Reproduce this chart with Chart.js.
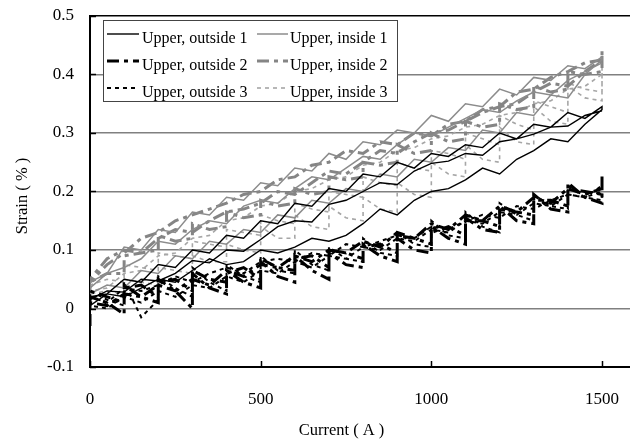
<!DOCTYPE html>
<html><head><meta charset="utf-8">
<script src="https://cdn.jsdelivr.net/npm/chart.js@4/dist/chart.umd.min.js"></script>
<style>html,body{margin:0;padding:0;background:#fff;}</style>
</head><body>
<canvas id="c" width="630" height="441"></canvas>
<script>
const seriesNames = ["Upper, outside 1","Upper, inside 1","Upper, outside 2","Upper, inside 2","Upper, outside 3","Upper, inside 3"];
const xTickValues = [0,500,1000,1500];
const yTickValues = [-0.1,0,0.1,0.2,0.3,0.4,0.5];
const xTitle = "Current ( A )";
const yTitle = "Strain ( % )";

// current sequences (A)
const plainUp = [0,50,100,150,200,250,300,350,400,450,500,550,600,650,700,750,800,850,900,950,1000,1050,1100,1150,1200,1250,1300,1350,1400,1450,1500];
const plainDown = [1500,1450,1400,1350,1300,1250,1200,1150,1100,1050,1000,950,900,850,800,750,700,650,600,550,500,450,400,350,300,250,200,150,100,50,0];
const holdUp = [0,0,50,100,100,150,200,200,250,300,300,350,400,400,450,500,500,550,600,600,650,700,700,750,800,800,850,900,900,950,1000,1000,1050,1100,1100,1150,1200,1200,1250,1300,1300,1350,1400,1400,1450,1500,1500];

// strain (%)
const out1Up = [0.005,0.025,0.020,0.035,0.050,0.045,0.065,0.085,0.075,0.080,0.100,0.095,0.105,0.120,0.115,0.125,0.145,0.170,0.160,0.185,0.200,0.205,0.220,0.240,0.230,0.255,0.270,0.290,0.285,0.315,0.340];
const out1Down = [0.345,0.325,0.335,0.310,0.315,0.290,0.300,0.275,0.280,0.260,0.265,0.240,0.250,0.225,0.230,0.200,0.205,0.175,0.180,0.145,0.150,0.120,0.125,0.095,0.100,0.070,0.075,0.045,0.050,0.025,0.020];
const out1Up2 = [0.015,0.030,0.028,0.050,0.047,0.060,0.082,0.078,0.100,0.098,0.118,0.140,0.150,0.148,0.178,0.185,0.200,0.215,0.212,0.235,0.248,0.252,0.265,0.262,0.285,0.290,0.298,0.310,0.312,0.330,0.338];
const in1Up = [0.025,0.040,0.035,0.065,0.060,0.090,0.085,0.115,0.110,0.135,0.130,0.160,0.155,0.185,0.180,0.205,0.200,0.230,0.225,0.255,0.250,0.275,0.270,0.305,0.300,0.335,0.330,0.365,0.360,0.400,0.425];
const in1Down = [0.430,0.410,0.415,0.390,0.395,0.365,0.375,0.345,0.350,0.320,0.330,0.300,0.305,0.280,0.285,0.255,0.265,0.235,0.240,0.210,0.215,0.185,0.190,0.160,0.165,0.130,0.135,0.100,0.105,0.060,0.045];
const in1Up2 = [0.035,0.060,0.070,0.085,0.115,0.110,0.135,0.150,0.145,0.175,0.185,0.180,0.205,0.225,0.220,0.240,0.260,0.255,0.280,0.300,0.295,0.310,0.325,0.340,0.335,0.355,0.370,0.365,0.390,0.405,0.420];
const out2Up = [-0.030,0.020,0.010,-0.010,0.040,0.020,0.010,0.050,0.030,0.000,0.060,0.035,0.025,0.065,0.045,0.035,0.080,0.055,0.045,0.090,0.065,0.050,0.095,0.075,0.070,0.110,0.090,0.080,0.120,0.100,0.095,0.140,0.120,0.110,0.155,0.135,0.130,0.175,0.150,0.145,0.195,0.170,0.165,0.215,0.190,0.180,0.230];
const out2Down = [0.205,0.195,0.205,0.180,0.190,0.165,0.175,0.150,0.160,0.135,0.145,0.120,0.130,0.105,0.115,0.095,0.100,0.080,0.090,0.070,0.075,0.055,0.065,0.040,0.050,0.030,0.040,0.020,0.025,0.005,0.010];
const out2Up2 = [0.000,0.030,0.020,0.010,0.035,0.040,0.020,0.045,0.050,0.030,0.065,0.050,0.045,0.060,0.070,0.050,0.085,0.070,0.065,0.085,0.090,0.070,0.100,0.095,0.085,0.105,0.110,0.095,0.125,0.120,0.110,0.130,0.140,0.125,0.150,0.150,0.140,0.170,0.165,0.160,0.185,0.185,0.175,0.205,0.200,0.195,0.215];
const in2Up = [0.020,0.045,0.060,0.060,0.090,0.095,0.100,0.125,0.115,0.120,0.145,0.135,0.140,0.165,0.155,0.160,0.185,0.175,0.180,0.205,0.195,0.200,0.225,0.220,0.225,0.250,0.245,0.250,0.280,0.265,0.270,0.300,0.285,0.290,0.320,0.310,0.315,0.350,0.340,0.345,0.380,0.370,0.375,0.405,0.400,0.405,0.440];
const in2Down = [0.425,0.420,0.405,0.395,0.375,0.370,0.345,0.340,0.320,0.315,0.295,0.300,0.280,0.285,0.265,0.270,0.250,0.245,0.225,0.220,0.200,0.195,0.180,0.170,0.160,0.150,0.130,0.120,0.095,0.075,0.045];
const in2Up2 = [0.050,0.085,0.100,0.095,0.120,0.135,0.130,0.150,0.165,0.170,0.180,0.200,0.195,0.215,0.235,0.230,0.250,0.270,0.265,0.285,0.300,0.305,0.320,0.335,0.345,0.350,0.370,0.385,0.380,0.405,0.425];
const out3Up = [-0.010,0.030,0.015,0.005,0.045,-0.015,0.015,0.055,0.035,0.020,0.070,0.045,0.030,0.075,0.055,0.045,0.090,0.065,0.060,0.100,0.075,0.065,0.105,0.085,0.080,0.120,0.095,0.090,0.130,0.110,0.105,0.150,0.125,0.120,0.165,0.140,0.130,0.180,0.160,0.150,0.195,0.175,0.170,0.210,0.190,0.185,0.220];
const out3Down = [0.200,0.190,0.195,0.175,0.180,0.160,0.165,0.145,0.150,0.130,0.135,0.115,0.120,0.100,0.105,0.085,0.090,0.070,0.080,0.060,0.065,0.045,0.055,0.035,0.040,0.020,0.030,0.010,0.020,0.000,0.005];
const out3Up2 = [0.020,0.010,0.035,0.030,0.040,0.055,0.045,0.060,0.070,0.060,0.080,0.085,0.080,0.095,0.090,0.110,0.105,0.115,0.125,0.120,0.140,0.135,0.150,0.160,0.155,0.175,0.170,0.185,0.195,0.190,0.210];
const in3Up = [0.000,0.025,0.030,0.025,0.050,0.045,0.040,0.070,0.065,0.060,0.090,0.080,0.080,0.110,0.100,0.095,0.140,0.120,0.120,0.160,0.140,0.135,0.175,0.155,0.150,0.190,0.170,0.165,0.215,0.195,0.190,0.250,0.230,0.225,0.280,0.255,0.250,0.310,0.285,0.280,0.345,0.320,0.315,0.380,0.360,0.355,0.410];
const in3Down = [0.400,0.380,0.375,0.355,0.350,0.335,0.330,0.315,0.310,0.295,0.290,0.275,0.270,0.250,0.245,0.225,0.220,0.205,0.200,0.180,0.175,0.155,0.150,0.125,0.120,0.095,0.090,0.065,0.060,0.035,0.030];
const in3Up2 = [0.015,0.040,0.050,0.045,0.075,0.070,0.065,0.095,0.090,0.085,0.115,0.110,0.105,0.135,0.130,0.125,0.160,0.150,0.145,0.180,0.170,0.165,0.200,0.195,0.190,0.225,0.215,0.210,0.250,0.240,0.235,0.270,0.265,0.255,0.300,0.290,0.280,0.330,0.315,0.305,0.355,0.345,0.335,0.385,0.375,0.370,0.420];

const FONT = "'Liberation Serif','Times New Roman',serif";
function pts(xs, ys){ return xs.map((x,i)=>({x:x, y:ys[i]})); }

const styles = [
  {color:'#000000', width:1.4, dash:[], order:0},
  {color:'#8c8c8c', width:1.5, dash:[], order:1},
  {color:'#000000', width:3, dash:[12,5,4,5], order:0},
  {color:'#858585', width:3, dash:[12,5,4,5], order:1},
  {color:'#000000', width:2, dash:[4,4], order:0},
  {color:'#a6a6a6', width:1.6, dash:[4,4], order:1}
];
const seriesData = [
  pts(plainUp,out1Up).concat(pts(plainDown,out1Down), pts(plainUp,out1Up2)),
  pts(plainUp,in1Up).concat(pts(plainDown,in1Down), pts(plainUp,in1Up2)),
  pts(holdUp,out2Up).concat(pts(plainDown,out2Down), pts(holdUp,out2Up2)),
  pts(holdUp,in2Up).concat(pts(plainDown,in2Down), pts(plainUp,in2Up2)),
  pts(holdUp,out3Up).concat(pts(plainDown,out3Down), pts(plainUp,out3Up2)),
  pts(holdUp,in3Up).concat(pts(plainDown,in3Down), pts(holdUp,in3Up2))
];

const datasets = seriesNames.map((n,i)=>({
  label:n, data:seriesData[i], showLine:true, fill:false,
  borderColor:styles[i].color, backgroundColor:styles[i].color,
  borderWidth:styles[i].width, borderDash:styles[i].dash,
  pointRadius:0, tension:0, order:styles[i].order
}));

const decor = {
  id:'decor',
  afterDraw(chart){
    const ctx = chart.ctx, ca = chart.chartArea;
    const xs = chart.scales.x, ys = chart.scales.y;
    ctx.save();
    ctx.strokeStyle='#000'; ctx.lineWidth=1.5; ctx.setLineDash([]);
    xTickValues.forEach(v=>{ const px=Math.round(xs.getPixelForValue(v))+0.5; ctx.beginPath(); ctx.moveTo(px,ca.bottom); ctx.lineTo(px,ca.bottom-6); ctx.stroke(); });
    yTickValues.forEach(v=>{ const py=Math.round(ys.getPixelForValue(v))+0.5; ctx.beginPath(); ctx.moveTo(ca.left,py); ctx.lineTo(ca.left+6,py); ctx.stroke(); });
    const bx=103.5, by=20.5, bw=294, bh=81;
    ctx.fillStyle='#fff'; ctx.fillRect(bx,by,bw,bh);
    ctx.strokeStyle='#444'; ctx.lineWidth=1; ctx.strokeRect(bx,by,bw,bh);
    const rows=[34,61,88], bases=[42.5,69.5,96.5];
    const cols=[{s:107,e:139,t:142},{s:257,e:288,t:290}];
    ctx.font='16px '+FONT; ctx.fillStyle='#000'; ctx.textAlign='left'; ctx.textBaseline='alphabetic';
    const order=[[0,2,4],[1,3,5]];
    order.forEach((list,ci)=>{
      list.forEach((di,ri)=>{
        const st=styles[di];
        ctx.save();
        ctx.strokeStyle=st.color; ctx.lineWidth=st.width; ctx.setLineDash(st.dash);
        ctx.beginPath(); ctx.moveTo(cols[ci].s,rows[ri]); ctx.lineTo(cols[ci].e,rows[ri]); ctx.stroke();
        ctx.restore();
        ctx.fillText(seriesNames[di], cols[ci].t, bases[ri]);
      });
    });
    ctx.font='16.5px '+FONT; ctx.fillStyle='#000';
    ctx.textAlign='center'; ctx.textBaseline='alphabetic';
    ctx.fillText(xTitle, 341.5, 435);
    ctx.save(); ctx.translate(26.5,196); ctx.rotate(-Math.PI/2);
    ctx.fillText(yTitle, 0, 0); ctx.restore();
    ctx.restore();
  }
};

new Chart(document.getElementById('c'), {
  type:'scatter',
  data:{datasets:datasets},
  options:{
    responsive:false, animation:false, devicePixelRatio:1,
    layout:{padding:{top:16,right:0,left:0,bottom:0}},
    plugins:{legend:{display:false}, tooltip:{enabled:false}},
    scales:{
      x:{type:'linear', min:0, max:1582,
        afterBuildTicks:s=>{ s.ticks = xTickValues.map(v=>({value:v})); },
        afterFit:s=>{ s.height=74; },
        grid:{display:true, color:'rgba(0,0,0,0)', drawOnChartArea:false, drawTicks:true, tickLength:22, tickColor:'rgba(0,0,0,0)'},
        border:{display:true, color:'#000', width:2},
        ticks:{color:'#000', font:{family:FONT, size:17}, padding:0, maxRotation:0, callback:v=>String(v)}
      },
      y:{type:'linear', min:-0.1, max:0.5,
        afterBuildTicks:s=>{ s.ticks = yTickValues.map(v=>({value:v})); },
        afterFit:s=>{ s.width=90; },
        grid:{drawTicks:true, tickLength:16, tickColor:'rgba(0,0,0,0)',
          color:c=>{ const v=c.tick.value; return v===0.5?'#000':(v===-0.1?'rgba(0,0,0,0)':'#808080'); },
          lineWidth:1.5},
        border:{display:true, color:'#000', width:2},
        ticks:{color:'#000', font:{family:FONT, size:17}, padding:0, callback:v=>String(Math.round(v*10)/10)}
      }
    }
  },
  plugins:[decor]
});
</script>
</body></html>
